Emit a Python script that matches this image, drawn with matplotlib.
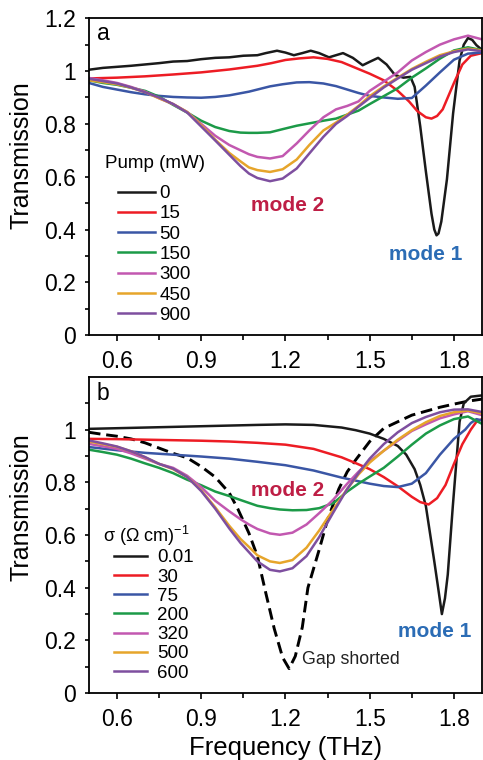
import matplotlib
matplotlib.use("Agg")
import matplotlib.pyplot as plt

plt.rcParams["font.family"] = ["Liberation Sans", "DejaVu Sans"]


# =====================================================
# DATA
# =====================================================

pump_labels = ["0", "15", "50", "150", "300", "450", "900"]
sigma_labels = ["0.01", "30", "75", "200", "320", "500", "600"]

colors = ["#1a1a1a", "#ed1c24", "#3a56a5", "#1c9a48",
          "#c258b0", "#e6a52b", "#7e4f9f"]

# panel a
a_x_black = [0.50, 0.55, 0.60, 0.65, 0.70, 0.75, 0.80, 0.85, 0.90, 0.95,
             1.00, 1.05, 1.10, 1.13, 1.17, 1.20, 1.23, 1.26, 1.29, 1.32,
             1.355, 1.38, 1.405, 1.44, 1.475, 1.50, 1.53, 1.56, 1.59, 1.62,
             1.645, 1.66, 1.68, 1.70, 1.72, 1.73, 1.738, 1.745, 1.755, 1.775,
             1.797, 1.82, 1.835, 1.85, 1.865, 1.88, 1.90]
a_y_black = [1.005, 1.012, 1.016, 1.020, 1.025, 1.030, 1.036, 1.038, 1.045, 1.050,
             1.052, 1.058, 1.060, 1.068, 1.077, 1.070, 1.060, 1.068, 1.077, 1.068,
             1.052, 1.060, 1.068, 1.050, 1.022, 1.035, 1.050, 1.025, 0.985, 0.975,
             0.978, 0.94, 0.79, 0.62, 0.46, 0.40, 0.378, 0.385, 0.43, 0.59,
             0.84, 1.04, 1.10, 1.125, 1.118, 1.098, 1.08]

a_x_red = [0.50, 0.60, 0.70, 0.80, 0.90, 1.00, 1.10, 1.15, 1.20, 1.25, 1.30,
           1.35, 1.40, 1.45, 1.50, 1.55, 1.60, 1.64, 1.67, 1.70, 1.72, 1.74,
           1.76, 1.78, 1.80, 1.83, 1.86, 1.90]
a_y_red = [0.972, 0.975, 0.980, 0.987, 0.995, 1.006, 1.020, 1.030, 1.042, 1.048, 1.052,
           1.046, 1.034, 1.012, 0.99, 0.965, 0.925, 0.885, 0.848, 0.825, 0.82, 0.83,
           0.855, 0.905, 0.955, 1.025, 1.058, 1.068]

a_x = [0.50, 0.55, 0.60, 0.65, 0.70, 0.75, 0.80, 0.85, 0.90, 0.95, 1.00,
       1.04, 1.07, 1.10, 1.145, 1.19, 1.24, 1.285, 1.335, 1.38, 1.42, 1.46,
       1.50, 1.55, 1.60, 1.65, 1.70, 1.75, 1.80, 1.85, 1.90]
a_y_blue = [0.955, 0.94, 0.93, 0.92, 0.912, 0.906, 0.902, 0.900, 0.899, 0.902, 0.908,
            0.916, 0.922, 0.93, 0.942, 0.95, 0.957, 0.958, 0.953, 0.943, 0.93, 0.917,
            0.906, 0.90, 0.895, 0.898, 0.945, 0.995, 1.043, 1.066, 1.07]
a_y_green = [0.965, 0.955, 0.948, 0.937, 0.925, 0.903, 0.872, 0.843, 0.812, 0.788, 0.773,
             0.767, 0.766, 0.766, 0.768, 0.78, 0.793, 0.802, 0.812, 0.82, 0.835, 0.85,
             0.875, 0.905, 0.935, 0.975, 1.01, 1.047, 1.078, 1.09, 1.079]
a_y_magenta = [0.974, 0.965, 0.955, 0.940, 0.922, 0.897, 0.875, 0.845, 0.80, 0.755, 0.72,
               0.70, 0.685, 0.675, 0.669, 0.678, 0.726, 0.775, 0.825, 0.855, 0.868, 0.885,
               0.925, 0.96, 0.995, 1.04, 1.072, 1.10, 1.12, 1.134, 1.12]
a_y_orange = [0.965, 0.958, 0.950, 0.937, 0.92, 0.897, 0.875, 0.845, 0.795, 0.74, 0.69,
              0.658, 0.635, 0.625, 0.618, 0.628, 0.665, 0.72, 0.775, 0.805, 0.835, 0.868,
              0.905, 0.942, 0.975, 1.008, 1.035, 1.06, 1.075, 1.085, 1.078]
a_y_purple = [0.971, 0.962, 0.953, 0.938, 0.92, 0.90, 0.875, 0.843, 0.79, 0.737, 0.683,
              0.64, 0.612, 0.595, 0.583, 0.593, 0.631, 0.688, 0.751, 0.80, 0.83, 0.865,
              0.898, 0.938, 0.972, 1.005, 1.03, 1.055, 1.072, 1.082, 1.075]

# panel b
b_x_black = [0.50, 0.70, 0.90, 1.10, 1.20, 1.30, 1.40, 1.45, 1.50, 1.55, 1.60,
             1.63, 1.66, 1.68, 1.70, 1.73, 1.745, 1.757, 1.768, 1.778, 1.796,
             1.82, 1.835, 1.86, 1.90]
b_y_black = [1.003, 1.008, 1.013, 1.018, 1.02, 1.018, 1.008, 0.998, 0.985, 0.965, 0.938,
             0.905, 0.85, 0.79, 0.71, 0.50, 0.39, 0.30, 0.36, 0.45, 0.71,
             1.03, 1.10, 1.125, 1.13]

b_x_gap = [0.50, 0.55, 0.60, 0.65, 0.70, 0.75, 0.80, 0.85, 0.90, 0.95, 1.00,
           1.03, 1.07, 1.10, 1.13, 1.16, 1.19, 1.213, 1.235, 1.26, 1.28, 1.32,
           1.35, 1.39, 1.42, 1.45, 1.50, 1.55, 1.60, 1.65, 1.70, 1.75, 1.80,
           1.85, 1.90]
b_y_gap = [0.99, 0.982, 0.975, 0.965, 0.95, 0.93, 0.91, 0.893, 0.86, 0.82, 0.76,
           0.70, 0.607, 0.52, 0.38, 0.245, 0.135, 0.093, 0.14, 0.25, 0.40, 0.544,
           0.658, 0.775, 0.84, 0.885, 0.955, 1.005, 1.03, 1.055, 1.07, 1.085, 1.097,
           1.108, 1.116]

b_x_red = [0.50, 0.60, 0.70, 0.80, 0.90, 1.00, 1.10, 1.20, 1.30, 1.40, 1.45,
           1.50, 1.55, 1.60, 1.65, 1.68, 1.71, 1.74, 1.77, 1.80, 1.83, 1.86,
           1.88, 1.90]
b_y_red = [0.965, 0.964, 0.962, 0.96, 0.958, 0.955, 0.95, 0.943, 0.927, 0.895, 0.873,
           0.85, 0.82, 0.785, 0.745, 0.725, 0.716, 0.74, 0.79, 0.87, 0.945, 1.0,
           1.03, 1.04]

b_x_blue = [0.50, 0.60, 0.70, 0.80, 0.90, 1.00, 1.10, 1.20, 1.30, 1.40, 1.50,
            1.55, 1.60, 1.65, 1.70, 1.75, 1.80, 1.84, 1.86, 1.88, 1.90]
b_y_blue = [0.934, 0.922, 0.912, 0.905, 0.898, 0.89, 0.878, 0.865, 0.845, 0.818, 0.795,
            0.786, 0.782, 0.795, 0.835, 0.905, 0.965, 1.0, 1.025, 1.04, 1.035]

b_x = [0.50, 0.55, 0.60, 0.65, 0.70, 0.75, 0.80, 0.85, 0.90, 0.95, 1.00,
       1.04, 1.07, 1.10, 1.145, 1.18, 1.225, 1.275, 1.32, 1.37, 1.42, 1.46,
       1.50, 1.55, 1.60, 1.65, 1.70, 1.75, 1.80, 1.85, 1.90]
b_y_green = [0.924, 0.915, 0.905, 0.89, 0.872, 0.855, 0.835, 0.81, 0.789, 0.765, 0.748,
             0.733, 0.722, 0.711, 0.702, 0.697, 0.694, 0.695, 0.702, 0.721, 0.765, 0.795,
             0.822, 0.855, 0.898, 0.943, 0.985, 1.016, 1.04, 1.05, 1.022]
b_y_magenta = [0.946, 0.937, 0.927, 0.91, 0.89, 0.87, 0.855, 0.825, 0.782, 0.73, 0.69,
               0.66, 0.64, 0.623, 0.606, 0.601, 0.609, 0.64, 0.683, 0.734, 0.795, 0.84,
               0.88, 0.92, 0.958, 0.995, 1.02, 1.043, 1.058, 1.07, 1.055]
b_y_orange = [0.955, 0.945, 0.935, 0.918, 0.895, 0.87, 0.85, 0.82, 0.77, 0.705, 0.635,
              0.585, 0.555, 0.523, 0.50, 0.494, 0.505, 0.552, 0.617, 0.697, 0.775, 0.83,
              0.875, 0.92, 0.962, 0.998, 1.028, 1.052, 1.066, 1.072, 1.062]
b_y_purple = [0.959, 0.948, 0.936, 0.918, 0.896, 0.87, 0.852, 0.82, 0.767, 0.70, 0.625,
              0.57, 0.535, 0.50, 0.468, 0.462, 0.474, 0.52, 0.592, 0.685, 0.775, 0.835,
              0.89, 0.945, 0.99, 1.025, 1.048, 1.066, 1.076, 1.077, 1.067]


# =====================================================
# FIGURE
# =====================================================

fig = plt.figure(figsize=(4.83, 7.6), dpi=100)
ax_a = fig.add_axes([0.184, 0.559, 0.814, 0.417])
ax_b = fig.add_axes([0.184, 0.088, 0.814, 0.416])

lw = 1.8

series_a = [
    (a_x_black, a_y_black),
    (a_x_red, a_y_red),
    (a_x, a_y_blue),
    (a_x, a_y_green),
    (a_x, a_y_magenta),
    (a_x, a_y_orange),
    (a_x, a_y_purple),
]
for (xs, ys), c, lab in zip(series_a, colors, pump_labels):
    ax_a.plot(xs, ys, color=c, lw=lw, label=lab, solid_joinstyle="round")

ax_b.plot(b_x_gap, b_y_gap, color="black", lw=2.1, linestyle=(0, (4, 2)))
series_b = [
    (b_x_black, b_y_black),
    (b_x_red, b_y_red),
    (b_x_blue, b_y_blue),
    (b_x, b_y_green),
    (b_x, b_y_magenta),
    (b_x, b_y_orange),
    (b_x, b_y_purple),
]
for (xs, ys), c, lab in zip(series_b, colors, sigma_labels):
    ax_b.plot(xs, ys, color=c, lw=lw, label=lab, solid_joinstyle="round")


for ax in (ax_a, ax_b):
    ax.set_xlim(0.5, 1.9)
    ax.set_ylim(0, 1.2)
    ax.set_xticks([0.6, 0.9, 1.2, 1.5, 1.8])
    ax.set_xticks([0.75, 1.05, 1.35, 1.65], minor=True)
    ax.set_xticklabels(["0.6", "0.9", "1.2", "1.5", "1.8"])
    ax.set_yticks([0.1, 0.3, 0.5, 0.7, 0.9, 1.1], minor=True)
    for s in ax.spines.values():
        s.set_linewidth(1.3)
    ax.tick_params(which="both", direction="out", width=1.2, labelsize=16.5)
    ax.tick_params(axis="x", which="major", length=4, pad=7)
    ax.tick_params(axis="x", which="minor", length=3.5)
    ax.tick_params(axis="y", which="major", length=3, pad=6)
    ax.tick_params(axis="y", which="minor", length=3)
    ax.set_ylabel("Transmission", fontsize=18)

ax_a.set_yticks([0, 0.2, 0.4, 0.6, 0.8, 1.0, 1.2])
ax_a.set_yticklabels(["0", "0.2", "0.4", "0.6", "0.8", "1", "1.2"])
ax_b.set_yticks([0, 0.2, 0.4, 0.6, 0.8, 1.0])
ax_b.set_yticklabels(["0", "0.2", "0.4", "0.6", "0.8", "1"])

ax_a.yaxis.set_label_coords(-0.142, 0.568)
ax_b.yaxis.set_label_coords(-0.142, 0.588)

ax_b.set_xlabel("Frequency (THz)", fontsize=18.5)
ax_b.xaxis.set_label_coords(0.5, -0.135)

ax_a.text(0.02, 0.93, "a", transform=ax_a.transAxes, fontsize=16.5)
ax_b.text(0.02, 0.927, "b", transform=ax_b.transAxes, fontsize=16.5)

# annotations
ax_a.text(1.208, 0.492, "mode 2", color="#be1e45", fontsize=15,
          fontweight="bold", ha="center", va="center")
ax_a.text(1.699, 0.307, "mode 1", color="#2b6cb5", fontsize=15,
          fontweight="bold", ha="center", va="center")
ax_b.text(1.208, 0.768, "mode 2", color="#be1e45", fontsize=15,
          fontweight="bold", ha="center", va="center")
ax_b.text(1.731, 0.233, "mode 1", color="#2b6cb5", fontsize=15,
          fontweight="bold", ha="center", va="center")
ax_b.text(1.258, 0.127, "Gap shorted", color="#222222", fontsize=12.8,
          ha="left", va="center")

# legends
ax_a.text(0.041, 0.543, "Pump (mW)", transform=ax_a.transAxes,
          fontsize=13.5, va="center", ha="left")
ax_a.legend(loc="upper left", bbox_to_anchor=(0.075, 0.474), frameon=False,
            fontsize=13.5, handlelength=1.95, handletextpad=0.25,
            labelspacing=0.17, borderpad=0, borderaxespad=0)

ax_b.text(0.036, 0.498, "σ (Ω cm)$^{\\mathregular{-1}}$", transform=ax_b.transAxes,
          fontsize=13, va="center", ha="left")
ax_b.legend(loc="upper left", bbox_to_anchor=(0.064, 0.455), frameon=False,
            fontsize=13.5, handlelength=1.75, handletextpad=0.55,
            labelspacing=0.11, borderpad=0, borderaxespad=0)

fig.savefig("out.png", dpi=100)
plt.close(fig)
